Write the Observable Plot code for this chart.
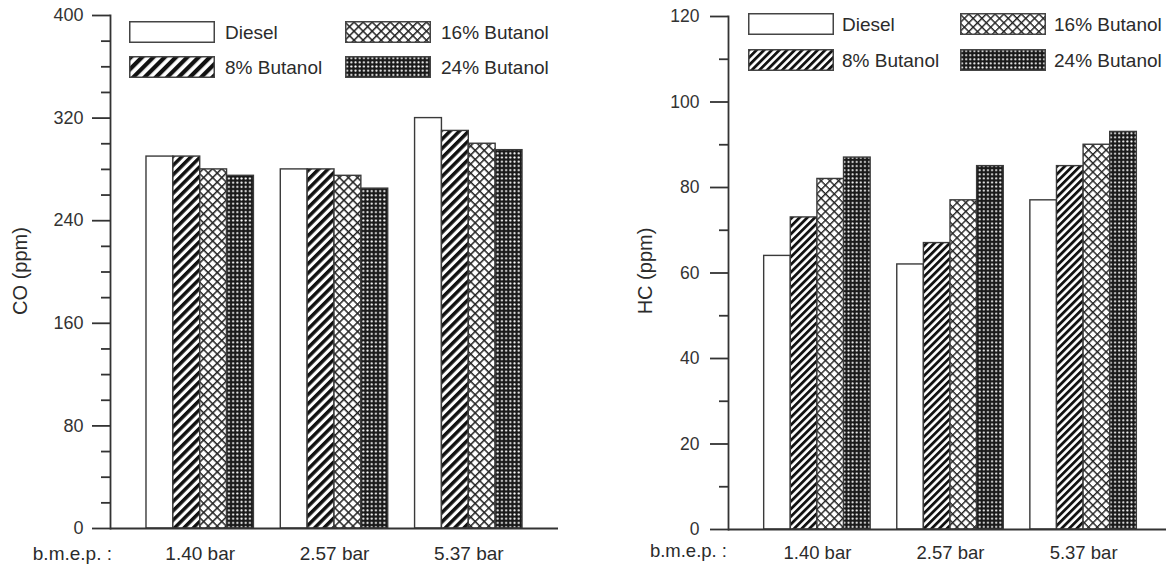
<!DOCTYPE html>
<html><head><meta charset="utf-8">
<script src="https://cdn.jsdelivr.net/npm/d3@7"></script>
<script src="https://cdn.jsdelivr.net/npm/@observablehq/plot@0.6"></script>
<style>
body{margin:0;background:#fff;font-family:"Liberation Sans",Arial,sans-serif;color:#2b2b2b;}
#root{position:relative;width:1166px;height:569px;overflow:hidden;background:#fff;}
.panel{position:absolute;top:0;}
.panel svg{max-width:none !important;}
.ylab{position:absolute;transform:translate(-50%,-50%) rotate(-90deg);white-space:nowrap;line-height:1;}
.xcap{position:absolute;white-space:nowrap;line-height:1;transform:translate(-100%,-50%);}
.leg{position:absolute;display:flex;align-items:center;white-space:nowrap;line-height:1;}
.leg svg{display:block;flex:none;}
</style></head>
<body>
<svg width="0" height="0" style="position:absolute;left:0;top:0">
<defs>
  <pattern id="stripeL" patternUnits="userSpaceOnUse" width="6.6" height="6.6" patternTransform="rotate(45)">
    <rect width="6.6" height="6.6" fill="#fff"/><rect width="3.5" height="6.6" fill="#111"/>
  </pattern>
  <pattern id="stripeLL" patternUnits="userSpaceOnUse" width="8" height="8" patternTransform="rotate(45)">
    <rect width="8" height="8" fill="#fff"/><rect width="4.2" height="8" fill="#111"/>
  </pattern>
  <pattern id="crossL" patternUnits="userSpaceOnUse" width="6.4" height="6.4" patternTransform="rotate(45)">
    <rect width="6.4" height="6.4" fill="#fff"/><rect width="6.4" height="1.5" fill="#222"/><rect width="1.5" height="6.4" fill="#222"/>
  </pattern>
  <pattern id="dotsL" patternUnits="userSpaceOnUse" width="4.2" height="4.2">
    <rect width="4.2" height="4.2" fill="#1a1a1a"/><circle cx="2.1" cy="2.1" r="1.05" fill="#fff"/>
  </pattern>
  <pattern id="stripeR" patternUnits="userSpaceOnUse" width="5.4" height="5.4" patternTransform="rotate(45)">
    <rect width="5.4" height="5.4" fill="#fff"/><rect width="2.8" height="5.4" fill="#111"/>
  </pattern>
  <pattern id="crossR" patternUnits="userSpaceOnUse" width="6.2" height="6.2" patternTransform="rotate(45)">
    <rect width="6.2" height="6.2" fill="#fff"/><rect width="6.2" height="1.4" fill="#222"/><rect width="1.4" height="6.2" fill="#222"/>
  </pattern>
  <pattern id="dotsR" patternUnits="userSpaceOnUse" width="4.1" height="4.1">
    <rect width="4.1" height="4.1" fill="#1a1a1a"/><circle cx="2.05" cy="2.05" r="1.0" fill="#fff"/>
  </pattern>
</defs>
</svg>
<div id="root"></div>
<script>
// ---- data ----
const categories = ["1.40 bar", "2.57 bar", "5.37 bar"];
const seriesNames = ["Diesel", "8% Butanol", "16% Butanol", "24% Butanol"];

const coDiesel = [290, 280, 320];
const coButanol8 = [290, 280, 310];
const coButanol16 = [280, 275, 300];
const coButanol24 = [275, 265, 295];

const hcDiesel = [64, 62, 77];
const hcButanol8 = [73, 67, 85];
const hcButanol16 = [82, 77, 90];
const hcButanol24 = [87, 85, 93];

const coMajorTicks = [0, 80, 160, 240, 320, 400];
const coMinorTicks = [20, 40, 60, 100, 120, 140, 180, 200, 220, 260, 280, 300, 340, 360, 380];
const hcMajorTicks = [0, 20, 40, 60, 80, 100, 120];
const hcMinorTicks = [10, 30, 50, 70, 90, 110];

const xCaption = "b.m.e.p. :";
const coLabel = "CO (ppm)";
const hcLabel = "HC (ppm)";

// ---- drawing ----
const root = document.getElementById("root");
const AX = "#333";

function makePanel(cfg) {
  const pi = 0.2, po = 0.268;
  const step = (cfg.width - cfg.ml - cfg.mr) / (categories.length - pi + 2 * po);
  const bw = step * (1 - pi);
  const w = bw / seriesNames.length;
  const n = seriesNames.length;
  const bars = cfg.values.map((vals, i) =>
    Plot.barY(categories.map((c, j) => ({cat: c, value: vals[j], series: seriesNames[i]})), {
      x: "cat", y: "value", fill: cfg.fills[i], stroke: "#3a3a3a", strokeWidth: 1.4,
      insetLeft: i * w, insetRight: (n - 1 - i) * w
    })
  );
  const svg = Plot.plot({
    width: cfg.width, height: 569,
    marginLeft: cfg.ml, marginRight: cfg.mr, marginTop: cfg.mt, marginBottom: cfg.mb,
    style: {background: "transparent", fontFamily: "'Liberation Sans', Arial, sans-serif", overflow: "visible", maxWidth: "none"},
    x: {domain: categories, paddingInner: pi, paddingOuter: po, round: false, align: 0.5},
    y: {domain: cfg.yDomain},
    marks: [
      ...bars,
      Plot.ruleY([0], {stroke: AX, strokeWidth: 1.8}),
      Plot.frame({anchor: "left", stroke: AX, strokeWidth: 1.8}),
      Plot.axisY(cfg.major, {tickSize: 18, tickPadding: cfg.tickPad, fontSize: cfg.tickFont, label: null, color: AX, strokeWidth: 1.8}),
      Plot.axisY(cfg.minor, {tickSize: 9, tickFormat: () => "", label: null, color: AX, strokeWidth: 1.8}),
      Plot.axisX({tickSize: 0, tickPadding: cfg.catPad, fontSize: cfg.catFont, label: null, color: "#2b2b2b"})
    ]
  });
  svg.style.maxWidth = "none";
  svg.setAttribute("width", cfg.width);
  svg.setAttribute("height", 569);
  const holder = document.createElement("div");
  holder.className = "panel";
  holder.style.left = cfg.left + "px";
  holder.style.width = cfg.width + "px";
  holder.appendChild(svg);
  root.appendChild(holder);

  // y label
  const yl = document.createElement("div");
  yl.className = "ylab";
  yl.textContent = cfg.label;
  yl.style.left = cfg.labelX + "px";
  yl.style.top = cfg.labelY + "px";
  yl.style.fontSize = cfg.labelFont + "px";
  root.appendChild(yl);

  // caption left of categories
  const xc = document.createElement("div");
  xc.className = "xcap";
  xc.textContent = xCaption;
  xc.style.left = cfg.capX + "px";
  xc.style.top = cfg.capY + "px";
  xc.style.fontSize = cfg.catFont + "px";
  root.appendChild(xc);

  // legend (two columns, two rows)
  seriesNames.forEach((name, i) => {
    const col = Math.floor(i / 2), row = i % 2;
    const item = document.createElement("div");
    item.className = "leg";
    item.style.left = cfg.leg.x[col] + "px";
    item.style.top = cfg.leg.y[row] + "px";
    item.style.fontSize = cfg.leg.font + "px";
    const bwid = cfg.leg.w, bh = cfg.leg.h;
    item.innerHTML = `<svg width="${bwid}" height="${bh}"><rect x="0.75" y="0.75" width="${bwid - 1.5}" height="${bh - 1.5}" fill="${cfg.legFills[i]}" stroke="#444" stroke-width="1.5"/></svg><span style="margin-left:${cfg.leg.gap}px">${name}</span>`;
    root.appendChild(item);
  });
}

makePanel({
  left: 0, width: 580, ml: 110, mr: 22, mt: 15, mb: 41,
  yDomain: [0, 400], major: coMajorTicks, minor: coMinorTicks,
  values: [coDiesel, coButanol8, coButanol16, coButanol24],
  fills: ["#fff", "url(#stripeL)", "url(#crossL)", "url(#dotsL)"],
  legFills: ["#fff", "url(#stripeLL)", "url(#crossL)", "url(#dotsL)"],
  tickPad: 9, tickFont: 18, catPad: 18, catFont: 19,
  label: coLabel, labelX: 20, labelY: 271, labelFont: 20,
  capX: 112, capY: 553,
  leg: {x: [129, 345], y: [21, 56], w: 86, h: 22, gap: 10, font: 19}
});

makePanel({
  left: 580, width: 600, ml: 148, mr: 8, mt: 16, mb: 40,
  yDomain: [0, 120], major: hcMajorTicks, minor: hcMinorTicks,
  values: [hcDiesel, hcButanol8, hcButanol16, hcButanol24],
  fills: ["#fff", "url(#stripeR)", "url(#crossR)", "url(#dotsR)"],
  legFills: ["#fff", "url(#stripeR)", "url(#crossR)", "url(#dotsR)"],
  tickPad: 11, tickFont: 17.5, catPad: 16, catFont: 18.5,
  label: hcLabel, labelX: 645, labelY: 271, labelFont: 20,
  capX: 727, capY: 551,
  leg: {x: [748, 960], y: [13, 49], w: 86, h: 22, gap: 8, font: 19}
});
</script>
</body></html>
